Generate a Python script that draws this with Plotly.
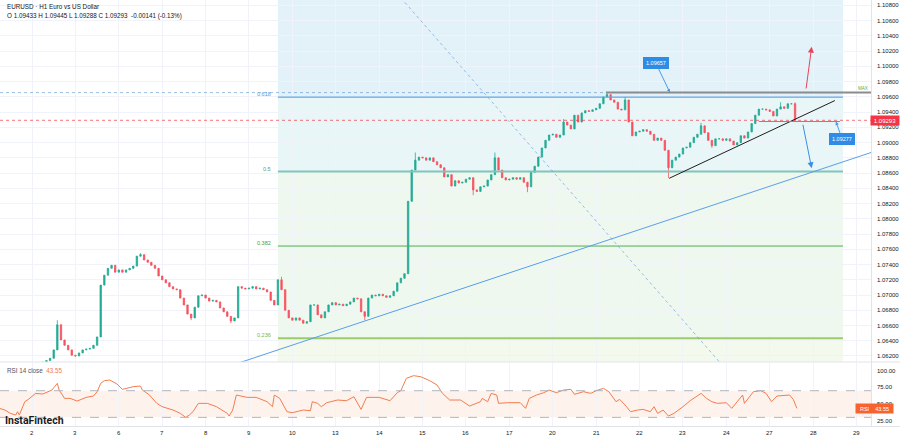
import plotly.graph_objects as go

# ---------------- data ----------------
# bar time index: hours on a trading-hours axis (0 = Nov 2, 00:00), 2-hour bars
bar_hours = list(range(-18, 423, 2))
closes = [
    1.0572, 1.0566, 1.0560, 1.0555, 1.0552, 1.0560, 1.0575, 1.0590, 1.0600,
    1.0605, 1.0610, 1.0608, 1.0612, 1.0614, 1.0617, 1.0628, 1.0661, 1.0641, 1.0634, 1.0628, 1.0621,
    1.0620, 1.0624, 1.0628, 1.0629, 1.0630, 1.0634, 1.0645, 1.0713, 1.0726, 1.0735, 1.0739, 1.0730,
    1.0733, 1.0730, 1.0733, 1.0735, 1.0738, 1.0751, 1.0753, 1.0746, 1.0743, 1.0739, 1.0735, 1.0725,
    1.0720, 1.0716, 1.0711, 1.0708, 1.0707, 1.0696, 1.0687, 1.0675, 1.0670, 1.0684, 1.0699, 1.0700,
    1.0696, 1.0692, 1.0693, 1.0691, 1.0683, 1.0678, 1.0672, 1.0666, 1.0670, 1.0711, 1.0709, 1.0708,
    1.0709, 1.0711, 1.0708, 1.0709, 1.0707, 1.0704, 1.0693, 1.0687, 1.0720, 1.0707, 1.0680, 1.0670,
    1.0667, 1.0670, 1.0667, 1.0663, 1.0665, 1.0687, 1.0687, 1.0674, 1.0670, 1.0678, 1.0687, 1.0690,
    1.0687, 1.0688, 1.0686, 1.0688, 1.0691, 1.0696, 1.0695, 1.0678, 1.0672, 1.0696, 1.0700, 1.0699,
    1.0701, 1.0699, 1.0697, 1.0699, 1.0705, 1.0716, 1.0722, 1.0728, 1.0823, 1.0864, 1.0877, 1.0881,
    1.0880, 1.0877, 1.0880, 1.0875, 1.0871, 1.0867, 1.0855, 1.0858, 1.0843, 1.0850, 1.0847, 1.0848,
    1.0852, 1.0854, 1.0838, 1.0836, 1.0842, 1.0843, 1.0851, 1.0858, 1.0880, 1.0864, 1.0854, 1.0851,
    1.0852, 1.0854, 1.0852, 1.0854, 1.0848, 1.0842, 1.0861, 1.0869, 1.0881, 1.0893, 1.0903, 1.0910,
    1.0911, 1.0907, 1.0910, 1.0927, 1.0923, 1.0918, 1.0936, 1.0927, 1.0939, 1.0942, 1.0941, 1.0943,
    1.0945, 1.0951, 1.0960, 1.0963, 1.0956, 1.0953, 1.0944, 1.0943, 1.0956, 1.0927, 1.0909, 1.0914,
    1.0915, 1.0917, 1.0915, 1.0911, 1.0903, 1.0906, 1.0903, 1.0890, 1.0867, 1.0877, 1.0881, 1.0885,
    1.0893, 1.0894, 1.0900, 1.0907, 1.0911, 1.0922, 1.0913, 1.0903, 1.0896, 1.0905, 1.0905, 1.0903,
    1.0905, 1.0902, 1.0897, 1.0900, 1.0909, 1.0906, 1.0914, 1.0925, 1.0936, 1.0944, 1.0944, 1.0943,
    1.0941, 1.0935, 1.0944, 1.0947, 1.0945, 1.0951, 1.0951, 1.09293,
]
# visible wick extremes (bar hour -> price)
wick_highs = {14: 1.0667, 60: 1.0755, 138: 1.0724, 212: 1.0887, 256: 1.0887, 294: 1.0931,
              318: 1.09657, 328: 1.0960, 370: 1.0926, 414: 1.0953, 422: 1.0953}
wick_lows = {38: 1.0700, 88: 1.0667, 110: 1.0663, 184: 1.0667, 208: 1.0790, 244: 1.0831,
             274: 1.0835, 352: 1.08535, 376: 1.0893, 422: 1.09288}

rsi_hours = [-18, -15, -12, -9, -8, -7, -4, -2, 2, 6, 11, 14, 15, 18, 21, 25, 30, 34, 36, 38, 40, 43, 47, 50,
             56, 60, 61, 65, 69, 72, 78, 82, 85, 87, 89, 92, 97, 102, 108, 109, 111, 113, 119, 124, 130,
             133, 134, 137, 141, 144, 150, 154, 155, 158, 160, 163, 169, 174, 178, 180, 182, 185, 192,
             198, 202, 204, 205, 207, 211, 215, 220, 224, 227, 231, 237, 242, 248, 249, 252, 254, 257,
             258, 263, 270, 273, 275, 279, 283, 286, 290, 294, 298, 300, 305, 309, 312, 316, 319, 323,
             325, 328, 331, 335, 338, 342, 344, 346, 349, 352, 355, 360, 364, 370, 373, 376, 379, 384,
             387, 390, 393, 394, 399, 403, 406, 409, 412, 419, 421, 423]
rsi_values = [43.5, 41, 36, 33.5, 38.5, 33.5, 53.5, 57, 66, 65, 71, 81, 71, 58.5, 58.5, 54.5, 60, 62, 68.5, 81,
              85, 86, 80, 72, 76, 77, 71, 63.5, 51, 46, 41, 36, 30, 33.5, 38.5, 51, 51, 46, 36, 32, 41,
              63.5, 60, 60, 53.5, 46, 63.5, 58.5, 38.5, 37, 41, 40, 53.5, 51, 46, 52, 56, 55, 61, 51, 42,
              60, 60, 55, 67, 70, 76, 88.5, 92.5, 91, 85, 78.5, 66, 56, 56, 47, 53.5, 58.5, 53.5, 66,
              63.5, 51, 52, 52, 43.5, 58.5, 63.5, 67, 71, 67, 71, 72, 64.5, 68.5, 66, 70, 73.5, 68.5,
              53.5, 57, 48.5, 38.5, 41, 42, 38.5, 46, 36, 41, 32, 36, 46, 55, 66, 58.5, 53.5, 51, 52,
              43.5, 53.5, 63.5, 51, 68.5, 70, 66, 53.5, 62, 63.5, 57, 43.55]

day_tick_hours = [0, 24, 48, 72, 96, 120, 144, 168, 192, 216, 240, 264, 288, 312, 336, 360, 384, 408, 432, 456]
day_tick_labels = ["2", "3", "6", "7", "8", "9", "10", "13", "14", "15", "16", "17", "20", "21", "22",
                   "23", "24", "27", "28", "29"]
price_ticks = [1.062, 1.064, 1.066, 1.068, 1.070, 1.072, 1.074, 1.076, 1.078, 1.080, 1.082, 1.084,
               1.086, 1.088, 1.090, 1.092, 1.094, 1.096, 1.098, 1.100, 1.102, 1.104, 1.106, 1.108]
price_tick_labels = ["1.06200", "1.06400", "1.06600", "1.06800", "1.07000", "1.07200", "1.07400",
                     "1.07600", "1.07800", "1.08000", "1.08200", "1.08400", "1.08600", "1.08800",
                     "1.09000", "1.09200", "1.09400", "1.09600", "1.09800", "1.10000", "1.10200",
                     "1.10400", "1.10600", "1.10800"]
rsi_ticks = [25, 50, 75, 100]
rsi_tick_labels = ["25.00", "50.00", "75.00", "100.00"]

fib_low = 1.0448
fib_high = 1.1276
fib_ratios = [0.236, 0.382, 0.5, 0.618]
fib_labels = ["0.236", "0.382", "0.5", "0.618"]
last_close = 1.09293
range_high = 1.09657
support_level = 1.09277
rsi_last = 43.55

# analyst drawings: (hour, price) anchors
fib_hours = (136, 448.5)
blue_trend = ((111, 1.06082), (464, 1.08870))
dotted_diag = ((204, 1.1090), (381, 1.0610))
black_trend = ((352.4, 1.08532), (444, 1.09552))
resist_hours = (317.4, 464)
support_hours = (402, 446.8)
up_arrow = ((428, 1.09691), (431.2, 1.10259))
down_arrow = ((426.2, 1.09254), (431.2, 1.08663))
label_high = ((345, 1.10045), (352.8, range_high))
label_support = ((448, 1.09048), (444.6, support_level))

# ---------------- build ----------------
opens = [closes[0]] + closes[:-1]
highs = [max(o, c, wick_highs.get(h, 0)) for h, o, c in zip(bar_hours, opens, closes)]
lows = [min(o, c, wick_lows.get(h, 9)) for h, o, c in zip(bar_hours, opens, closes)]

W, H = 900, 439
XR = [-17.7, 464]
XD = [0, 871 / W]
FONT = "Liberation Sans, Arial, sans-serif"
fib_price = [fib_low + r * (fib_high - fib_low) for r in fib_ratios]

fig = go.Figure()
fig.add_trace(go.Candlestick(
    x=bar_hours, open=opens, high=highs, low=lows, close=closes,
    increasing=dict(line=dict(color="#22ab94", width=0.8), fillcolor="#22ab94"),
    decreasing=dict(line=dict(color="#f7525f", width=0.8), fillcolor="#f7525f"),
    whiskerwidth=0, hoverinfo="skip", xaxis="x", yaxis="y"))
fig.add_trace(go.Scatter(
    x=rsi_hours, y=rsi_values, mode="lines", line=dict(color="#f47c4f", width=1),
    hoverinfo="skip", xaxis="x2", yaxis="y2"))

shapes = []
band_cols = ["rgba(139,195,74,0.10)", "rgba(76,175,80,0.09)", "rgba(76,175,80,0.09)",
             "rgba(0,150,170,0.09)", "rgba(41,150,210,0.13)"]
edges = [1.0, fib_price[0], fib_price[1], fib_price[2], fib_price[3], 1.2]
for k in range(5):
    shapes.append(dict(type="rect", xref="x", yref="y", x0=fib_hours[0], x1=fib_hours[1],
                       y0=edges[k], y1=edges[k + 1], fillcolor=band_cols[k], line=dict(width=0),
                       layer="below"))
fib_line_cols = ["#9ccc65", "#4caf50", "#80c4bc", "#5ba8e4"]
fib_line_w = [2, 1, 2, 1.2]
for p, c, w in zip(fib_price, fib_line_cols, fib_line_w):
    shapes.append(dict(type="line", xref="x", yref="y", x0=fib_hours[0], x1=fib_hours[1], y0=p, y1=p,
                       line=dict(color=c, width=w)))
shapes.append(dict(type="line", xref="x domain", yref="y", x0=0, x1=1, y0=range_high, y1=range_high,
                   line=dict(color="rgba(60,130,200,0.5)", width=1, dash="dot")))
shapes.append(dict(type="line", xref="x domain", yref="y", x0=0, x1=1, y0=last_close, y1=last_close,
                   line=dict(color="rgba(242,54,69,0.7)", width=1, dash="dot")))
shapes.append(dict(type="line", xref="x", yref="y", x0=blue_trend[0][0], y0=blue_trend[0][1],
                   x1=blue_trend[1][0], y1=blue_trend[1][1], line=dict(color="#5b9fe3", width=1)))
shapes.append(dict(type="line", xref="x", yref="y", x0=dotted_diag[0][0], y0=dotted_diag[0][1],
                   x1=dotted_diag[1][0], y1=dotted_diag[1][1],
                   line=dict(color="rgba(90,150,220,0.6)", width=1, dash="dot")))
shapes.append(dict(type="line", xref="x", yref="y", x0=black_trend[0][0], y0=black_trend[0][1],
                   x1=black_trend[1][0], y1=black_trend[1][1], line=dict(color="#1e1e1e", width=1)))
shapes.append(dict(type="line", xref="x", yref="y", x0=resist_hours[0], x1=resist_hours[1],
                   y0=range_high, y1=range_high, line=dict(color="#8c8c8c", width=2)))
shapes.append(dict(type="line", xref="x", yref="y", x0=support_hours[0], x1=support_hours[1],
                   y0=support_level, y1=support_level, line=dict(color="#4a9ae8", width=1)))
shapes.append(dict(type="rect", xref="x2 domain", yref="y2", x0=0, x1=1, y0=30, y1=70,
                   fillcolor="rgba(247,125,80,0.10)", line=dict(width=0), layer="below"))
for lv in (30, 70):
    shapes.append(dict(type="line", xref="x2 domain", yref="y2", x0=0, x1=1, y0=lv, y1=lv,
                       line=dict(color="#b2b5be", width=1, dash="dash")))
for py in (77, 12.5):
    shapes.append(dict(type="line", xref="paper", yref="paper", x0=0, x1=1, y0=py / H, y1=py / H,
                       line=dict(color="#e0e3eb", width=1)))
shapes.append(dict(type="line", xref="paper", yref="paper", x0=871.5 / W, x1=871.5 / W, y0=12.5 / H, y1=1,
                   line=dict(color="#e0e3eb", width=1)))

ann = []
txt = dict(family=FONT, size=6.3, color="#131722")
ann.append(dict(xref="paper", yref="paper", x=5 / W, y=1 - 6.7 / H, xanchor="left", yanchor="middle",
                text="EURUSD · H1 Euro vs US Dollar", showarrow=False, font=txt))
ann.append(dict(xref="paper", yref="paper", x=5 / W, y=1 - 16.3 / H, xanchor="left", yanchor="middle",
                text="O 1.09433 H 1.09445 L 1.09288 C 1.09293  -0.00141 (-0.13%)", showarrow=False, font=txt))
ann.append(dict(xref="paper", yref="paper", x=5 / W, y=1 - 370 / H, xanchor="left", yanchor="middle",
                text="RSI 14 close  <span style='color:#f47c4f'>%.2f</span>" % rsi_last, showarrow=False,
                font=dict(family=FONT, size=6.3, color="#50535e")))
ann.append(dict(xref="paper", yref="paper", x=3 / W, y=1 - 420 / H, xanchor="left", yanchor="middle",
                text="<b>InstaFintech</b>", showarrow=False,
                font=dict(family="Roboto, Liberation Sans, sans-serif", size=10.5, color="#1b1b1b")))
for p, lab, c in zip(fib_price, fib_labels, ["#7cb342", "#43a047", "#4f9e96", "#5b9bd0"]):
    ann.append(dict(xref="x", yref="y", x=fib_hours[0] - 2.6, y=p, xanchor="right", yanchor="middle",
                    yshift=3, text=lab, showarrow=False, font=dict(family=FONT, size=5.5, color=c)))
ann.append(dict(xref="paper", yref="y", x=862.5 / W, y=range_high, xanchor="center", yanchor="bottom",
                text="MAX", showarrow=False, font=dict(family=FONT, size=4.5, color="#4caf50")))
for p, lab in zip(price_ticks, price_tick_labels):
    ann.append(dict(xref="paper", yref="y", x=875 / W, y=p, xanchor="left", yanchor="middle",
                    text=lab, showarrow=False, font=dict(family=FONT, size=6, color="#131722")))
for r, lab in zip(rsi_ticks, rsi_tick_labels):
    ann.append(dict(xref="paper", yref="y2", x=875 / W, y=r, xanchor="left", yanchor="middle",
                    text=lab, showarrow=False, font=dict(family=FONT, size=6, color="#131722")))
for hx, lab in zip(day_tick_hours, day_tick_labels):
    ann.append(dict(xref="x2", yref="paper", x=hx, y=1 - 433 / H, xanchor="center", yanchor="middle",
                    text=lab, showarrow=False, font=dict(family=FONT, size=6, color="#131722")))
ann.append(dict(xref="paper", yref="y", x=1, y=last_close, xanchor="right", yanchor="middle",
                text="%.5f" % last_close, showarrow=False, bgcolor="#f23645", borderpad=1.5, width=25,
                font=dict(family=FONT, size=6, color="white")))
ann.append(dict(xref="paper", yref="y2", x=874.5 / W, y=rsi_last, xanchor="center", yanchor="middle",
                text="RSI&nbsp;&nbsp;&nbsp;&nbsp;%.2f" % rsi_last, showarrow=False, bgcolor="#f7632f",
                borderpad=1.5, width=34, font=dict(family=FONT, size=5.5, color="white")))
for (ctr, tip), val in ((label_high, range_high), (label_support, support_level)):
    ann.append(dict(xref="x", yref="y", axref="x", ayref="y", x=tip[0], y=tip[1], ax=ctr[0], ay=ctr[1],
                    text="%.5f" % val, showarrow=True, arrowhead=2, arrowsize=0.7, arrowwidth=1,
                    arrowcolor="#4a9ae8", bgcolor="#2f8ce6", bordercolor="#2f8ce6", borderpad=2,
                    font=dict(family=FONT, size=5.5, color="white")))
for (tail, tip), col in ((up_arrow, "#e8445a"), (down_arrow, "#3d8fe0")):
    ann.append(dict(xref="x", yref="y", axref="x", ayref="y", x=tip[0], y=tip[1], ax=tail[0], ay=tail[1],
                    text="", showarrow=True, arrowhead=2, arrowsize=1.2, arrowwidth=1, arrowcolor=col))

grid = "#f0f3fa"
fig.update_layout(
    width=W, height=H, margin=dict(l=0, r=0, t=0, b=0),
    paper_bgcolor="white", plot_bgcolor="white", showlegend=False, boxgap=0.45,
    shapes=shapes, annotations=ann,
    xaxis=dict(domain=XD, range=XR, anchor="y", tickvals=day_tick_hours, showticklabels=False,
               showgrid=True, gridcolor=grid, zeroline=False, rangeslider=dict(visible=False), fixedrange=True),
    yaxis=dict(domain=[77 / H, 1], range=[1.06121, 1.10872], side="right", anchor="x",
               tickvals=price_ticks, showticklabels=False, showgrid=True, gridcolor=grid,
               zeroline=False, ticks=""),
    xaxis2=dict(domain=XD, range=XR, anchor="y2", matches="x", tickvals=day_tick_hours,
                showticklabels=False, showgrid=True, gridcolor=grid, zeroline=False, ticks=""),
    yaxis2=dict(domain=[13 / H, 76 / H], range=[17.05, 111.55], side="right", anchor="x2",
                tickvals=rsi_ticks, showticklabels=False, showgrid=False, zeroline=False, ticks=""),
)
fig.write_html("out.html", config={"displayModeBar": False},
               post_script="document.body.style.margin='0';document.body.style.padding='0';")
